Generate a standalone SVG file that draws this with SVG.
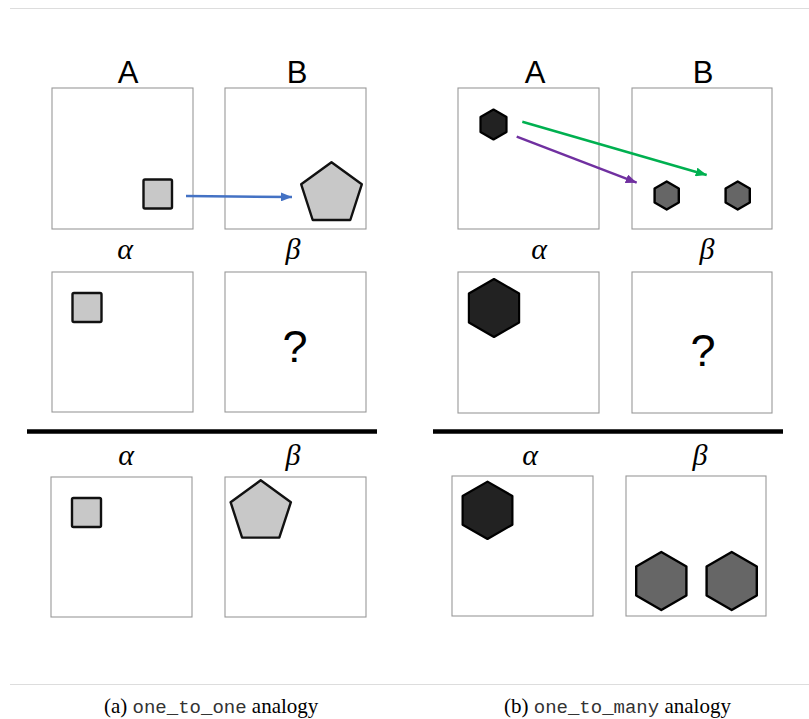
<svg xmlns="http://www.w3.org/2000/svg" width="809" height="719" viewBox="0 0 809 719">
<style>
.box{fill:#fff;stroke:#999;stroke-width:1.1}
.sq{fill:#c8c8c8;stroke:#111;stroke-width:2.4;stroke-linejoin:round}
.hd{fill:#222;stroke:#000;stroke-width:2.2;stroke-linejoin:round}
.hg{fill:#666;stroke:#000;stroke-width:2.4;stroke-linejoin:round}
.lab{font-family:"Liberation Sans",Arial,sans-serif;font-size:31px;text-anchor:middle;fill:#000}
.gk{font-family:"Liberation Serif","DejaVu Serif",serif;font-style:italic;font-size:30px;text-anchor:middle;fill:#000}
.q{font-family:"Liberation Sans",Arial,sans-serif;font-size:45px;text-anchor:middle;fill:#000}
.cap{font-family:"Liberation Serif","Times New Roman",serif;font-size:21px;fill:#000}
.tt{font-family:"Liberation Mono","Courier New",monospace;font-size:19px;fill:#333}
.sep{stroke:#000;stroke-width:4.5}
.rule{stroke:#ddd;stroke-width:1}
</style>
<defs>
<marker id="mb" markerUnits="userSpaceOnUse" markerWidth="11" markerHeight="9" refX="11" refY="4.5" orient="auto"><path d="M0,0 L11,4.5 L0,9 z" fill="#4472C4"/></marker>
<marker id="mg" markerUnits="userSpaceOnUse" markerWidth="11" markerHeight="9" refX="11" refY="4.5" orient="auto"><path d="M0,0 L11,4.5 L0,9 z" fill="#00B050"/></marker>
<marker id="mp" markerUnits="userSpaceOnUse" markerWidth="11" markerHeight="9" refX="11" refY="4.5" orient="auto"><path d="M0,0 L11,4.5 L0,9 z" fill="#7030A0"/></marker>
</defs>
<rect width="809" height="719" fill="#fff"/>
<line class="rule" x1="10" y1="8.5" x2="809" y2="8.5"/>
<line class="rule" x1="10" y1="684.5" x2="809" y2="684.5"/>

<g id="panel-a">
<g id="a-A"><text class="lab" x="128" y="83">A</text><rect class="box" x="52" y="88" width="141" height="141"/><rect class="sq" x="143.5" y="179.5" width="28.5" height="29" rx="1.5"/></g>
<g id="a-B"><text class="lab" x="297" y="83">B</text><rect class="box" x="225" y="88" width="141" height="141"/><polygon class="sq" points="331.5,162.3 361.8,184.3 350.3,220 312.7,220 301.2,184.3"/></g>
<g id="a-alpha"><text class="gk" x="125" y="259">α</text><rect class="box" x="52" y="272" width="141" height="140"/><rect class="sq" x="72.5" y="293" width="29" height="29" rx="1.5"/></g>
<g id="a-beta"><text class="gk" x="293" y="259">β</text><rect class="box" x="225" y="272" width="141" height="140"/><text class="q" x="295" y="362">?</text></g>
<line class="sep" x1="27" y1="431.5" x2="377" y2="431.5"/>
<g id="a-alpha2"><text class="gk" x="126" y="465">α</text><rect class="box" x="51" y="477" width="141" height="140"/><rect class="sq" x="72" y="498" width="29" height="29" rx="1.5"/></g>
<g id="a-beta2"><text class="gk" x="293" y="465">β</text><rect class="box" x="225" y="477" width="141" height="140"/><polygon class="sq" points="260.7,480.3 290.9,502.2 279.3,537.6 242.1,537.6 230.6,502.2"/></g>
<text class="cap" x="104" y="713">(a) <tspan class="tt">one_to_one</tspan> analogy</text>
</g>

<g id="panel-b">
<g id="b-A"><text class="lab" x="535" y="83">A</text><rect class="box" x="458" y="88" width="141" height="141"/><polygon class="hd" points="493.5,109.5 506.5,117 506.5,132 493.5,139.5 480.5,132 480.5,117"/></g>
<g id="b-B"><text class="lab" x="703" y="83">B</text><rect class="box" x="632" y="88" width="140" height="141"/>
<polygon class="hg" points="666.7,181.5 678.8,188.5 678.8,202.5 666.7,209.5 654.6,202.5 654.6,188.5"/>
<polygon class="hg" points="737.7,181.5 749.8,188.5 749.8,202.5 737.7,209.5 725.6,202.5 725.6,188.5"/></g>
<g id="b-alpha"><text class="gk" x="539" y="259">α</text><rect class="box" x="458" y="272" width="141" height="141"/><polygon class="hd" points="494,279 519.1,293.5 519.1,322.5 494,337 468.9,322.5 468.9,293.5"/></g>
<g id="b-beta"><text class="gk" x="707" y="259">β</text><rect class="box" x="632" y="272" width="140" height="141"/><text class="q" x="703" y="366">?</text></g>
<line class="sep" x1="433" y1="431.5" x2="783" y2="431.5"/>
<g id="b-alpha2"><text class="gk" x="530" y="465">α</text><rect class="box" x="452" y="476" width="141" height="140"/><polygon class="hd" points="487.5,481.6 512.4,496 512.4,524.7 487.5,539 462.6,524.7 462.6,496"/></g>
<g id="b-beta2"><text class="gk" x="700" y="465">β</text><rect class="box" x="626" y="476" width="140" height="140"/>
<polygon class="hg" points="661.3,552 686.4,566.5 686.4,595.5 661.3,610 636.2,595.5 636.2,566.5"/>
<polygon class="hg" points="731.7,552 756.8,566.5 756.8,595.5 731.7,610 706.6,595.5 706.6,566.5"/></g>
<text class="cap" x="504" y="713">(b) <tspan class="tt">one_to_many</tspan> analogy</text>
</g>

<g id="connectors" fill="none" stroke-width="2.5">
<line x1="186" y1="196" x2="292" y2="197" stroke="#4472C4" marker-end="url(#mb)"/>
<line x1="522.3" y1="121.7" x2="706.7" y2="175" stroke="#00B050" marker-end="url(#mg)"/>
<line x1="516.7" y1="136.7" x2="636.7" y2="182.7" stroke="#7030A0" marker-end="url(#mp)"/>
</g>
</svg>
